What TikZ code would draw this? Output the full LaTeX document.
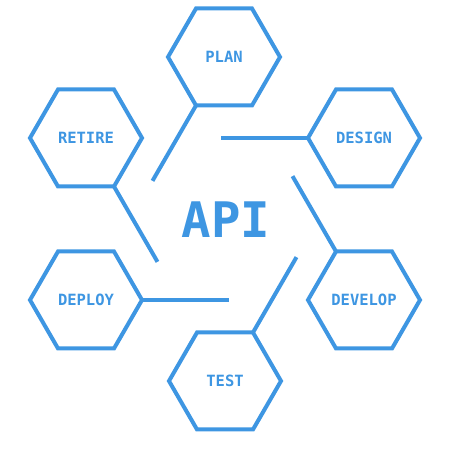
\documentclass[tikz,border=0pt]{standalone}
\usepackage{fontspec}
\setmonofont{DejaVu Sans Mono}
\usepackage{tikz}
\usetikzlibrary{shapes.geometric,positioning,calc}
\definecolor{apiblue}{RGB}{62,150,226}

\begin{document}
\begin{tikzpicture}[
    x=1pt,y=1pt,
    stage/.style={regular polygon,regular polygon sides=6,draw=apiblue,line width=4pt,
        minimum size=112pt,inner sep=0pt,outer sep=0pt,text=apiblue,
        font=\ttfamily\bfseries\fontsize{15.5}{18}\selectfont},
    link/.style={draw=apiblue,line width=4pt}
]
    \useasboundingbox (0,0) rectangle (474,454);
    % Nodes
    \node[text=apiblue,font=\ttfamily\bfseries\fontsize{49}{56}\selectfont] (api) at (226,234) {API};
    \node[stage] (plan) at (224,397) {PLAN};
    \node[stage] (design) at (364,316) {DESIGN};
    \node[stage] (develop) at (364,154) {DEVELOP};
    \node[stage] (test) at (225,73) {TEST};
    \node[stage] (deploy) at (86,154) {DEPLOY};
    \node[stage] (retire) at (86,316) {RETIRE};

    % Edges
    \draw[link] (plan.240) -- ++(240:87);
    \draw[link] (design.180) -- ++(180:87);
    \draw[link] (develop.120) -- ++(120:87);
    \draw[link] (test.60) -- ++(60:87);
    \draw[link] (deploy.0) -- ++(0:87);
    \draw[link] (retire.300) -- ++(300:87);
\end{tikzpicture}
\end{document}
